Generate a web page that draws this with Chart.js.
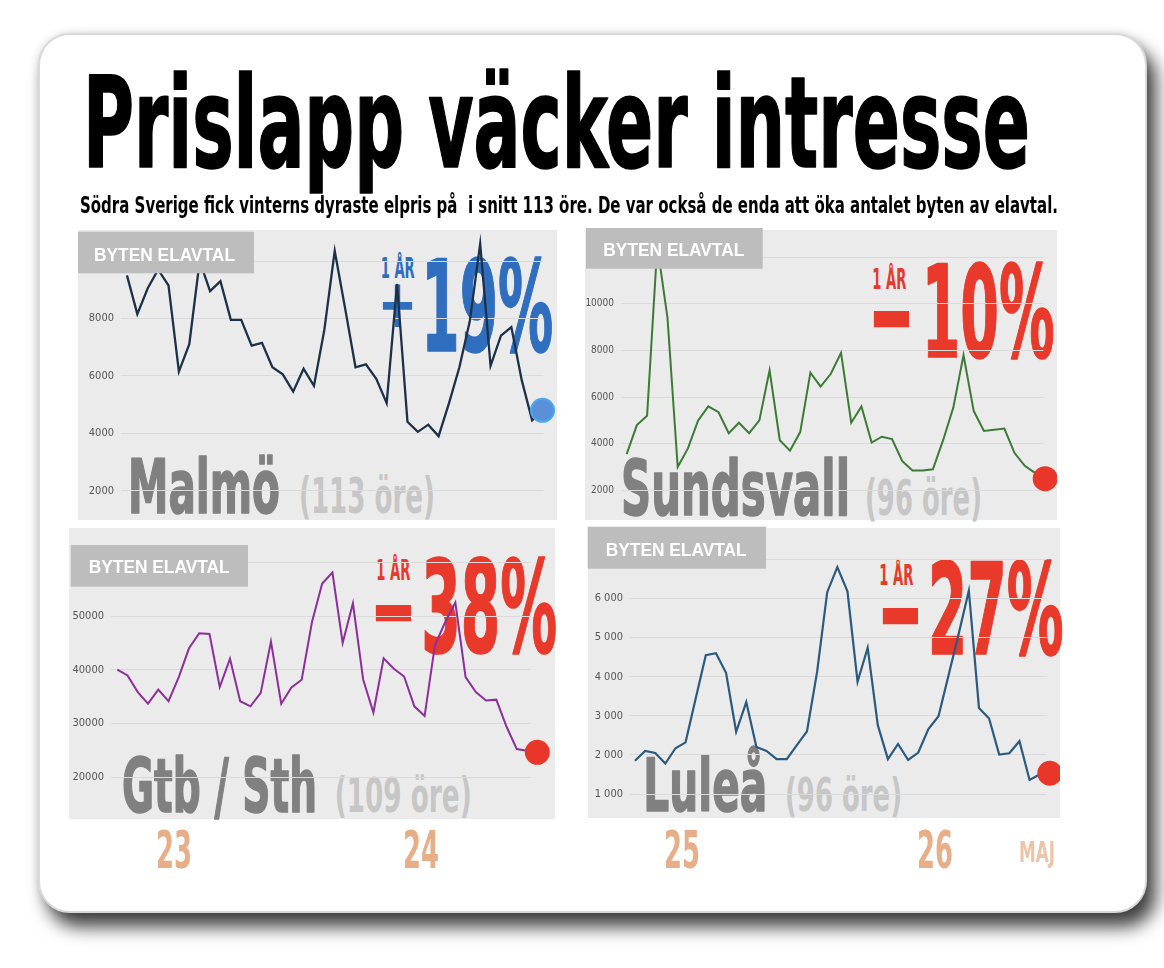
<!DOCTYPE html>
<html lang="sv">
<head>
<meta charset="UTF-8">
<title>Prislapp väcker intresse</title>
<script src="https://cdn.jsdelivr.net/npm/chart.js"></script>
<style>
  html, body { margin: 0; padding: 0; background: #fff; }
  #stage { position: relative; width: 1164px; height: 968px; overflow: hidden; }
  #card { position: absolute; left: 38px; top: 33px; width: 1105px; height: 876px; background: #fff;
          border: 2px solid #d9d9d9; border-radius: 32px;
          box-shadow: 9px 14px 18px rgba(0,0,0,0.75), 0 0 8px rgba(0,0,0,0.12); }
  .panel { position: absolute; background: #ebebeb; z-index: 1; }
  .chartbox { position: absolute; z-index: 3; }
  .chartbox canvas { display: block; }
  svg { position: absolute; left: 0; top: 0; }
  #under { z-index: 2; }
  #over { z-index: 4; }
  .cond { font-family: 'DejaVu Sans Condensed', 'Liberation Sans Narrow', Roboto, sans-serif; font-weight: bold; white-space: pre; }
  .tag { font-family: 'Liberation Sans', Arial, sans-serif; font-weight: bold; fill: #fff; }
</style>
</head>
<body>
<div id="stage">
  <div id="card"></div>
  <svg id="under" width="1164" height="968"></svg>
  <svg id="over" width="1164" height="968"></svg>
</div>

<script>
  // byten av elavtal per vecka
  const malmoValues = [9500, 8150, 9050, 9700, 9150, 6150, 7100, 10000, 8950, 9300, 7950, 7950, 7050, 7150,
    6300, 6050, 5450, 6250, 5650, 7600, 10350, 8350, 6300, 6400, 5900, 5050, 9200, 4400, 4050, 4300,
    3900, 5050, 6300, 7900, 10600, 6350, 7400, 7700, 5850, 4450, 4800];
  const sundsvallValues = [3550, 4800, 5200, 12500, 9400, 3000, 3800, 5000, 5600, 5350, 4450, 4900, 4450,
    5000, 7150, 4150, 3700, 4500, 7050, 6450, 7000, 7900, 4900, 5600, 4050, 4300, 4200, 3250, 2850,
    2850, 2900, 4150, 5550, 7800, 5400, 4550, 4600, 4650, 3600, 3050, 2750, 2500];
  const gtbValues = [40050, 38950, 35850, 33700, 36300, 34150, 38650, 44000, 46800, 46650, 36800, 42050,
    34150, 33200, 35700, 45250, 33700, 36700, 38150, 48850, 56050, 58100, 45000, 52400, 38200, 32050,
    42150, 40200, 38750, 33200, 31400, 44500, 48850, 52500, 38650, 35850, 34300, 34450, 29400, 25250,
    24950, 24650];
  const luleaValues = [1850, 2100, 2050, 1780, 2170, 2320, 3440, 4550, 4600, 4100, 2590, 3350, 2200, 2100,
    1890, 1890, 2250, 2600, 4120, 6160, 6800, 6180, 3870, 4740, 2760, 1890, 2280, 1870, 2060, 2660,
    2990, 4040, 5100, 6200, 3200, 2930, 2010, 2040, 2350, 1360, 1500, 1530];

  const cityNames = ['Malmö', 'Sundsvall', 'Gtb / Sth', 'Luleå'];
  const cityPrices = ['(113 öre)', '(96 öre)', '(109 öre)', '(96 öre)'];
  const changeSigns = ['+', '−', '−', '−'];
  const changeNumbers = ['19%', '10%', '38%', '27%'];
  const yearLabels = ['23', '24', '25', '26'];
  const monthLabel = 'MAJ';
  const tagLabel = 'BYTEN ELAVTAL';

  const condFont = "'DejaVu Sans Condensed', 'Liberation Sans Narrow', Roboto, sans-serif";
  const plainFmt = v => String(v);
  const spacedFmt = v => String(v).replace(/\B(?=(\d{3})+(?!\d))/g, ' ');

  const panels = [
    { values: malmoValues, color: '#1c3048', lw: 2.3,
      box: { left: 78, top: 230, right: 557, bottom: 520 },
      area: { left: 121, right: 547, top: 261, bottom: 490.7 }, first: 127, last: 546,
      yMin: 2000, yMax: 10000, step: 2000, fmt: plainFmt, tickSize: 11,
      dotFill: '#5b8fd8', dotBorder: '#48a7ef' },
    { values: sundsvallValues, color: '#3c7a36', lw: 2,
      box: { left: 585, top: 230, right: 1057, bottom: 520 },
      area: { left: 621, right: 1046, top: 257.3, bottom: 490.3 }, first: 626.7, last: 1047.7,
      yMin: 2000, yMax: 12000, step: 2000, fmt: plainFmt, tickSize: 10,
      dotFill: '#e8372a', dotBorder: '#e8372a' },
    { values: gtbValues, color: '#8c2f9b', lw: 2,
      box: { left: 69, top: 528, right: 555, bottom: 819 },
      area: { left: 111, right: 531, top: 562.3, bottom: 777.3 }, first: 117.3, last: 537.3,
      yMin: 20000, yMax: 60000, step: 10000, fmt: plainFmt, tickSize: 11,
      dotFill: '#e8372a', dotBorder: '#e8372a' },
    { values: luleaValues, color: '#2b5a7e', lw: 2.2,
      box: { left: 588, top: 528, right: 1060, bottom: 818 },
      area: { left: 630, right: 1047.7, top: 559.3, bottom: 794 }, first: 635, last: 1051,
      yMin: 1000, yMax: 7000, step: 1000, fmt: spacedFmt, tickSize: 11,
      dotFill: '#e8372a', dotBorder: '#e8372a' }
  ];

  const stage = document.getElementById('stage');

  panels.forEach(p => {
    const w = p.box.right - p.box.left, h = p.box.bottom - p.box.top;
    const bg = document.createElement('div');
    bg.className = 'panel';
    Object.assign(bg.style, { left: p.box.left + 'px', top: p.box.top + 'px', width: w + 'px', height: h + 'px' });
    stage.appendChild(bg);

    const holder = document.createElement('div');
    holder.className = 'chartbox';
    Object.assign(holder.style, { left: p.box.left + 'px', top: p.box.top + 'px', width: w + 'px', height: h + 'px' });
    const cv = document.createElement('canvas');
    cv.width = w; cv.height = h;
    holder.appendChild(cv);
    stage.appendChild(holder);

    const n = p.values.length - 1;
    const px = (p.last - p.first) / n;

    new Chart(cv.getContext('2d'), {
      type: 'line',
      data: {
        datasets: [{
          data: p.values.map((v, i) => ({ x: i, y: v })),
          borderColor: p.color,
          borderWidth: p.lw,
          tension: 0,
          clip: false,
          pointRadius: p.values.map((v, i) => i === n ? 11.5 : 0),
          pointBackgroundColor: p.dotFill,
          pointBorderColor: p.dotBorder,
          pointBorderWidth: 2,
          pointHoverRadius: 0
        }]
      },
      options: {
        responsive: false,
        animation: false,
        events: [],
        layout: { padding: { left: 0, top: p.area.top - p.box.top, right: p.box.right - p.area.right, bottom: p.box.bottom - p.area.bottom } },
        plugins: { legend: { display: false }, tooltip: { enabled: false } },
        scales: {
          x: { type: 'linear', display: false, min: -(p.first - p.area.left) / px, max: n + (p.area.right - p.last) / px },
          y: {
            min: p.yMin, max: p.yMax,
            afterFit: s => { s.width = p.area.left - p.box.left; },
            border: { display: false },
            grid: { color: '#dadada', lineWidth: 1, drawTicks: false },
            ticks: { stepSize: p.step, padding: 7, color: '#555', font: { family: condFont, size: p.tickSize }, callback: p.fmt }
          }
        }
      }
    });
  });

  // texter
  const NS = 'http://www.w3.org/2000/svg';
  function txt(layer, s, x, y, size, len, fill, cls, extra) {
    const t = document.createElementNS(NS, 'text');
    t.setAttribute('x', x); t.setAttribute('y', y);
    t.setAttribute('font-size', size);
    if (len) { t.setAttribute('textLength', len); t.setAttribute('lengthAdjust', 'spacingAndGlyphs'); }
    t.setAttribute('fill', fill);
    t.setAttribute('class', cls || 'cond');
    if (extra) for (const k in extra) t.setAttribute(k, extra[k]);
    t.textContent = s;
    document.getElementById(layer).appendChild(t);
    return t;
  }
  function rect(layer, x, y, w, h, fill) {
    const r = document.createElementNS(NS, 'rect');
    r.setAttribute('x', x); r.setAttribute('y', y); r.setAttribute('width', w); r.setAttribute('height', h);
    r.setAttribute('fill', fill);
    document.getElementById(layer).appendChild(r);
  }
  const heavy = c => ({ stroke: c, 'stroke-width': 1.6, 'stroke-linejoin': 'round' });

  txt('over', 'Prislapp väcker intresse', 83, 167, 127, 947, '#000', 'cond', heavy('#000'));
  txt('over', 'Södra Sverige fick vinterns dyraste elpris på  i snitt 113 öre. De var också de enda att öka antalet byten av elavtal.',
      80, 213, 23, 978, '#000');

  const blue = '#2f6ebf', red = '#e8392a';
  const labelPos = [
    { city: [128, 513.3, 74, 152], price: [299, 513.3, 49, 136], yr: [380.7, 278.3], sign: [378, 327, 68, 39], num: [421.3, 350.7, 126, 132], col: blue,
      tag: [78, 231.7, 176, 41.6, 94, 260.7] },
    { city: [621, 514.7, 76, 229], price: [865, 515, 49, 117], yr: [872.3, 289], sign: [868, 363, 140, 47], num: [921.7, 357.3, 128, 133], col: red,
      tag: [586, 228, 176.7, 40.7, 603.3, 256.3] },
    { city: [122, 812.3, 75, 195], price: [334.7, 812.3, 48, 137], yr: [376.3, 580], sign: [370, 656.5, 140, 47], num: [421.3, 651.7, 128, 136], col: red,
      tag: [70.7, 545, 177.3, 41.7, 88.7, 573.3] },
    { city: [643.3, 810.7, 73, 124], price: [785, 810.7, 47, 117], yr: [879.3, 585], sign: [877, 659.5, 140, 47], num: [927.7, 654.3, 127, 136], col: red,
      tag: [587.7, 526.7, 178.3, 42, 605.7, 556] }
  ];

  labelPos.forEach((L, i) => {
    txt('under', cityNames[i], L.city[0], L.city[1], L.city[2], L.city[3], '#808080', 'cond', heavy('#808080'));
    txt('under', cityPrices[i], L.price[0], L.price[1], L.price[2], L.price[3], '#c6c6c6');
    txt('under', '1 ÅR', L.yr[0], L.yr[1], 28, 34, L.col);
    txt('under', changeSigns[i], L.sign[0], L.sign[1], L.sign[2], L.sign[3], L.col);
    txt('under', changeNumbers[i], L.num[0], L.num[1], L.num[2], L.num[3], L.col, 'cond', heavy(L.col));
    rect('over', L.tag[0], L.tag[1], L.tag[2], L.tag[3], '#bdbdbd');
    txt('over', tagLabel, L.tag[4], L.tag[5], 19, 141, '#fff', 'tag');
  });

  const yearPos = [156, 403, 664, 917];
  yearLabels.forEach((s, i) => txt('over', s, yearPos[i], 868, 51, 36, '#e8ae88'));
  txt('over', monthLabel, 1019, 862, 29, 36, '#edc4a7');
</script>
</body>
</html>
